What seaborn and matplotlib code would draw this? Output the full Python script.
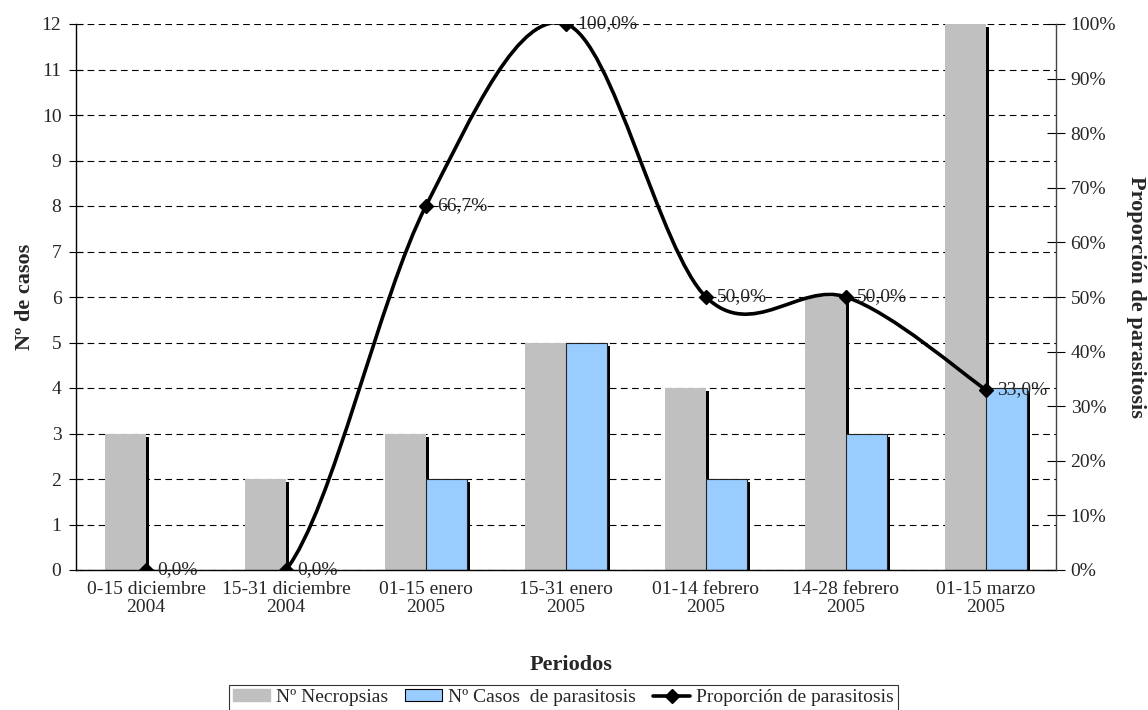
import numpy as np
import pandas as pd
import matplotlib
matplotlib.use('Agg')
import matplotlib.pyplot as plt
import seaborn as sns
from matplotlib.path import Path
from matplotlib.patches import PathPatch, Patch
from matplotlib.lines import Line2D
import matplotlib.patheffects as pe

# Data
periodos = ['0-15 diciembre\n2004', '15-31 diciembre\n2004', '01-15 enero\n2005',
            '15-31 enero\n2005', '01-14 febrero\n2005', '14-28 febrero\n2005',
            '01-15 marzo\n2005']
necropsias = [3, 2, 3, 5, 4, 6, 12]
casos = [0, 0, 2, 5, 2, 3, 4]
proporcion = [0.0, 0.0, 0.667, 1.0, 0.5, 0.5, 0.33]
etiquetas = ['0,0%', '0,0%', '66,7%', '100,0%', '50,0%', '50,0%', '33,0%']

serie_nec = 'Nº Necropsias'
serie_cas = 'Nº Casos  de parasitosis'
serie_prop = 'Proporción de parasitosis'

sns.set_theme(style='white')
plt.rcParams['font.family'] = ['Liberation Serif', 'DejaVu Serif']
plt.rcParams['font.size'] = 14

df = pd.DataFrame({
    'periodo': periodos * 2,
    'serie': [serie_nec] * len(periodos) + [serie_cas] * len(periodos),
    'valor': necropsias + casos,
})

W, H = 1148, 710
L, R, T, B = 76, 1056, 24, 570
fig = plt.figure(figsize=(W / 100, H / 100), dpi=100)
ax = fig.add_axes([L / W, 1 - B / H, (R - L) / W, (B - T) / H])

colores = {serie_nec: '#C0C0C0', serie_cas: '#99CCFF'}
sns.barplot(data=df, x='periodo', y='valor', hue='serie', palette=colores,
            width=0.58, gap=0, saturation=1, legend=False, ax=ax)

# Excel-like shadow on the right side of each bar
shadow = [pe.SimplePatchShadow(offset=(2.3, -2.3), shadow_rgbFace='black', alpha=1.0), pe.Normal()]
for i, cont in enumerate(ax.containers):
    for bar in cont:
        bar.set_path_effects(shadow)
        if i == 1:
            bar.set_edgecolor('#222222')
            bar.set_linewidth(0.8)
        else:
            bar.set_linewidth(0)

ax.set_xlim(-0.5, len(periodos) - 0.5)
ax.set_ylim(0, 12)
ax.set_yticks(range(0, 13))
ax.set_axisbelow(True)
ax.yaxis.grid(True, linestyle=(0, (6, 4)), color='black', linewidth=0.8)
ax.xaxis.grid(False)
ax.set_xticks(range(len(periodos)))
ax.set_xticklabels(periodos, fontsize=14, linespacing=1.1)
ax.set_xticks(np.arange(-0.5, len(periodos), 1.0), minor=True)
ax.tick_params(axis='x', which='major', length=0, pad=8)
ax.tick_params(axis='x', which='minor', length=4, width=0.8, direction='out', color='black')
ax.tick_params(axis='y', length=10, width=0.8, direction='inout', color='black', labelsize=14, pad=5.5)
ax.tick_params(axis='y', left=True)
for s in ['top', 'right']:
    ax.spines[s].set_visible(False)
for s in ['left', 'bottom']:
    ax.spines[s].set_color('black')
    ax.spines[s].set_linewidth(1)

ax.set_xlabel('Periodos', fontweight='bold', fontsize=16)
ax.xaxis.label.set_va('center')
ax.xaxis.set_label_coords((571 - L) / (R - L), (B - 665) / (B - T))
ax.set_ylabel('Nº de casos', fontweight='bold', fontsize=16)
ax.yaxis.label.set_va('center')
ax.yaxis.set_label_coords((25 - L) / (R - L), 0.5)

# Secondary axis: smoothed proportion line
ax2 = ax.twinx()
ax2.set_ylim(0, 1)
ax2.set_yticks(np.arange(0, 1.01, 0.1))
ax2.set_yticklabels([f'{int(round(v * 100))}%' for v in np.arange(0, 1.01, 0.1)])
ax2.tick_params(axis='y', length=13, width=0.8, direction='inout', color='black', labelsize=14, pad=4)
ax2.tick_params(axis='y', right=True)
for s in ['top', 'left', 'bottom']:
    ax2.spines[s].set_visible(False)
ax2.spines['right'].set_color('#444444')
ax2.spines['right'].set_linewidth(1)
ax2.grid(False)

x = np.arange(len(proporcion), dtype=float)
pts = np.column_stack([x, proporcion])
verts = [pts[0]]
codes = [Path.MOVETO]
n = len(pts)
for i in range(n - 1):
    prev = pts[max(i - 1, 0)]
    nxt = pts[min(i + 2, n - 1)]
    c1 = pts[i] + (pts[i + 1] - prev) / 6
    c2 = pts[i + 1] - (nxt - pts[i]) / 6
    verts += [c1, c2, pts[i + 1]]
    codes += [Path.CURVE4] * 3
ax2.add_patch(PathPatch(Path(verts, codes), facecolor='none', edgecolor='black', linewidth=2.6, zorder=3))
ax2.plot(x, proporcion, linestyle='none', marker='D', markersize=7.5, color='black', zorder=4)

for xi, yi, t in zip(x, proporcion, etiquetas):
    ax2.annotate(t, (xi, yi), xytext=(8, 0), textcoords='offset points',
                 ha='left', va='center', fontsize=14, annotation_clip=False)

ax2.set_ylabel(serie_prop, fontweight='bold', fontsize=16, rotation=270)
ax2.yaxis.label.set_va('center')
ax2.yaxis.set_label_coords((1136 - L) / (R - L), 0.5)

handles = [Patch(facecolor='#C0C0C0', edgecolor='#C0C0C0'),
           Patch(facecolor='#99CCFF', edgecolor='black', linewidth=0.8),
           Line2D([0], [0], color='black', linewidth=2.6, marker='D', markersize=7.5)]
leg = fig.legend(handles, [serie_nec, serie_cas, serie_prop], loc='upper left',
                 bbox_to_anchor=(229 / W, 1 - 685 / H), ncol=3, frameon=True, fancybox=False,
                 edgecolor='black', fontsize=14, handlelength=1.9, handleheight=0.5,
                 handletextpad=0.3, columnspacing=0.9, borderpad=0.2, borderaxespad=0)
leg.get_frame().set_linewidth(0.8)

fig.savefig('out.png', dpi=100)
